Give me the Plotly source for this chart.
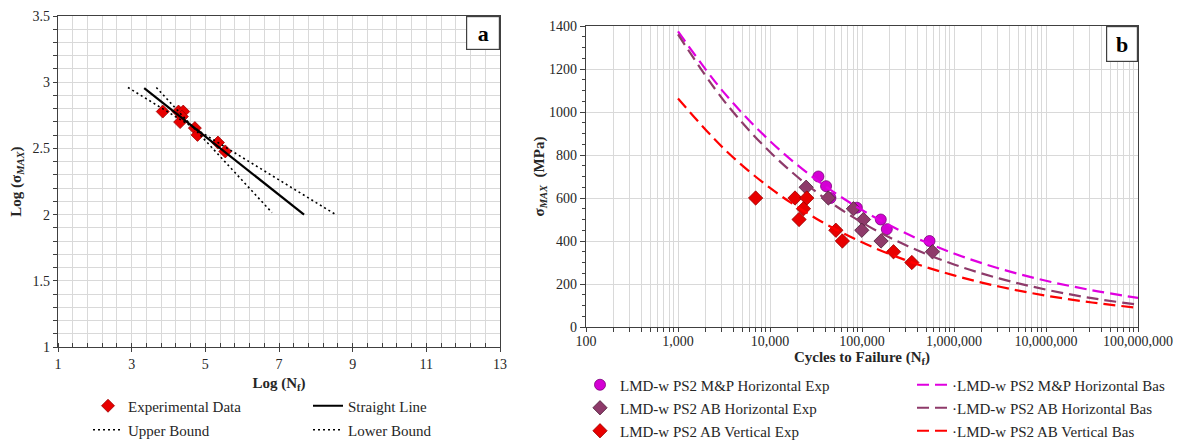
import numpy as np
import plotly.graph_objects as go

# ---------------- data ----------------
# Panel b: experimental points
mp_h_N = [33600, 40700, 45400, 87900, 160000, 186000, 542000]
mp_h_S = [700, 655, 600, 555, 500, 455, 400]

ab_h_N = [24700, 43100, 80700, 103800, 99500, 161000, 583000]
ab_h_S = [650, 600, 550, 500, 450, 400, 350]

ab_v_N = [6980, 18700, 25100, 23100, 20700, 52000, 61200, 220000, 348000]
ab_v_S = [600, 600, 600, 550, 500, 450, 400, 350, 300]

# Panel b: Basquin curves read at half-decade cycle counts
bas_N = [1e3, 3.162e3, 1e4, 3.162e4, 1e5, 3.162e5, 1e6, 3.162e6, 1e7, 3.162e7, 1e8]
mp_h_bas = [1375, 1090, 865, 686, 544, 431, 342, 271, 215, 171, 135]
ab_h_bas = [1361, 1052, 814, 629, 486, 376, 291, 225, 174, 134, 104]
ab_v_bas = [1063, 829, 647, 505, 394, 307, 240, 187, 146, 114, 89]

# Panel a: log-log lines
straight_x = [3.34, 7.68]
straight_y = [2.956, 2.0]
upper_x = [2.90, 8.54]
upper_y = [2.96, 2.0]
lower_x = [3.67, 6.81]
lower_y = [2.96, 2.015]

# tick labels of panel b x axis
b_tickvals = [1e2, 1e3, 1e4, 1e5, 1e6, 1e7, 1e8]
b_ticktext = ["100", "1,000", "10,000", "100,000", "1,000,000", "10,000,000", "100,000,000"]

# ---------------- styling ----------------
OFF = 8  # default page body margin
W, H = 1182 - OFF, 440 - OFF
FONT = "Liberation Serif"
GRID = "#d9d9d9"
AXIS = "#404040"
MAGENTA = "#E000E0"
PLUM = "#8E3A6A"
RED = "#FF0000"


def px_x(p):
    return (p - OFF) / W


def px_y(p):
    return 1 - (p - OFF) / H


fig = go.Figure()

# ---- panel a ----
fig.add_trace(go.Scatter(
    x=np.log10(ab_v_N), y=np.log10(ab_v_S), mode="markers", name="Experimental Data",
    marker=dict(symbol="diamond", size=10, color="#E80000", line=dict(color="#9a0000", width=0.8)),
    xaxis="x", yaxis="y", legend="legend"))
fig.add_trace(go.Scatter(
    x=straight_x, y=straight_y, mode="lines", name="Straight Line",
    line=dict(color="black", width=2.2), xaxis="x", yaxis="y", legend="legend2"))
fig.add_trace(go.Scatter(
    x=upper_x, y=upper_y, mode="lines", name="Upper Bound",
    line=dict(color="black", width=1.6, dash="2px,3px"), xaxis="x", yaxis="y", legend="legend3"))
fig.add_trace(go.Scatter(
    x=lower_x, y=lower_y, mode="lines", name="Lower Bound",
    line=dict(color="black", width=1.6, dash="2px,3px"), xaxis="x", yaxis="y", legend="legend4"))

# ---- panel b ----
DASH = "12px,6px"
fig.add_trace(go.Scatter(
    x=mp_h_N, y=mp_h_S, mode="markers", name="LMD-w PS2 M&P Horizontal Exp",
    marker=dict(symbol="circle", size=11, color="#D400D4", line=dict(color="#7a007a", width=0.8)),
    xaxis="x2", yaxis="y2", legend="legend5"))
fig.add_trace(go.Scatter(
    x=ab_h_N, y=ab_h_S, mode="markers", name="LMD-w PS2 AB Horizontal Exp",
    marker=dict(symbol="diamond", size=11, color=PLUM, line=dict(color="#4d1f39", width=0.8)),
    xaxis="x2", yaxis="y2", legend="legend6"))
fig.add_trace(go.Scatter(
    x=ab_v_N, y=ab_v_S, mode="markers", name="LMD-w PS2 AB Vertical Exp",
    marker=dict(symbol="diamond", size=11, color="#E80000", line=dict(color="#9a0000", width=0.8)),
    xaxis="x2", yaxis="y2", legend="legend7"))
fig.add_trace(go.Scatter(
    x=bas_N, y=mp_h_bas, mode="lines", line_shape="spline", name="·LMD-w PS2 M&P Horizontal Bas",
    line=dict(color=MAGENTA, width=2.2, dash=DASH), xaxis="x2", yaxis="y2", legend="legend8"))
fig.add_trace(go.Scatter(
    x=bas_N, y=ab_h_bas, mode="lines", line_shape="spline", name="·LMD-w PS2 AB Horizontal Bas",
    line=dict(color=PLUM, width=2.2, dash=DASH), xaxis="x2", yaxis="y2", legend="legend9"))
fig.add_trace(go.Scatter(
    x=bas_N, y=ab_v_bas, mode="lines", line_shape="spline", name="·LMD-w PS2 AB Vertical Bas",
    line=dict(color=RED, width=2.2, dash=DASH), xaxis="x2", yaxis="y2", legend="legend10"))

tickfont = dict(family=FONT, size=14, color="#262626")
titlefont = dict(family=FONT, size=15, color="#262626")


def leg(x, y):
    return dict(x=px_x(x), y=px_y(y), xanchor="left", yanchor="middle", orientation="v",
                bgcolor="rgba(0,0,0,0)", borderwidth=0,
                font=dict(family=FONT, size=15, color="#262626"),
                itemwidth=30, tracegroupgap=0)


fig.update_layout(
    width=W, height=H, margin=dict(l=0, r=0, t=0, b=0, autoexpand=False),
    paper_bgcolor="white", plot_bgcolor="white",
    font=dict(family=FONT, color="#262626"),
    xaxis=dict(domain=[px_x(58), px_x(500)], range=[1, 13], dtick=2, tick0=1,
               showgrid=True, gridcolor=GRID, gridwidth=1,
               minor=dict(dtick=0.4, tick0=1, showgrid=True, gridcolor=GRID, ticks="inside",
                          ticklen=4, tickcolor=AXIS),
               ticks="outside", ticklen=4, tickcolor=AXIS,
               showline=True, linecolor=AXIS, linewidth=1.2, mirror=True,
               zeroline=False, tickfont=tickfont,
               title=dict(text="<b>Log (N<sub>f</sub>)</b>", font=titlefont, standoff=6),
               anchor="y"),
    yaxis=dict(domain=[px_y(347), px_y(16)], range=[1, 3.5], dtick=0.5, tick0=1,
               showgrid=True, gridcolor=GRID, gridwidth=1,
               minor=dict(dtick=0.1, tick0=1, showgrid=True, gridcolor=GRID, ticks="outside",
                          ticklen=4, tickcolor=AXIS),
               ticks="outside", ticklen=4, tickcolor=AXIS,
               showline=True, linecolor=AXIS, linewidth=1.2, mirror=True,
               zeroline=False, tickfont=tickfont,
               title=dict(text="<b>Log (σ<sub><i>MAX</i></sub>)</b>", font=titlefont, standoff=8),
               anchor="x"),
    xaxis2=dict(domain=[px_x(586), px_x(1138)], type="log", range=[2, 8],
                tickmode="array", tickvals=b_tickvals, ticktext=b_ticktext, tickangle=0,
                showgrid=True, gridcolor=GRID, gridwidth=1,
                minor=dict(dtick="D1", showgrid=True, gridcolor=GRID, ticks="outside",
                           ticklen=4, tickcolor=AXIS),
                ticks="outside", ticklen=1, tickcolor=AXIS,
                showline=True, linecolor=AXIS, linewidth=1.2, mirror=True,
                zeroline=False, tickfont=tickfont,
                title=dict(text="<b>Cycles to Failure (N<sub>f</sub>)</b>", font=titlefont, standoff=0),
                anchor="y2"),
    yaxis2=dict(domain=[px_y(327), px_y(26)], range=[0, 1400], dtick=200,
                showgrid=True, gridcolor=GRID, gridwidth=1,
                minor=dict(dtick=50, showgrid=False, ticks="outside", ticklen=3, tickcolor=AXIS),
                ticks="outside", ticklen=5, tickcolor=AXIS,
                showline=True, linecolor=AXIS, linewidth=1.2, mirror=True,
                zeroline=False, tickfont=tickfont,
                title=dict(text="<b>σ<sub><i>MAX</i></sub>  (MPa)</b>", font=titlefont, standoff=0),
                anchor="x2"),
    legend=leg(88, 406),
    legend2=leg(308, 406),
    legend3=leg(88, 430),
    legend4=leg(308, 430),
    legend5=leg(580, 385),
    legend6=leg(580, 408),
    legend7=leg(580, 431),
    legend8=leg(912, 385),
    legend9=leg(912, 408),
    legend10=leg(912, 431),
    showlegend=True,
)

fig.add_annotation(xref="paper", yref="paper", x=px_x(500), y=px_y(16),
                   xanchor="right", yanchor="top", text="<b>a</b>", showarrow=False,
                   font=dict(family=FONT, size=22, color="black"),
                   width=32, height=32, bordercolor=AXIS, borderwidth=1.2, borderpad=0,
                   bgcolor="white")
fig.add_annotation(xref="paper", yref="paper", x=px_x(1138), y=px_y(26),
                   xanchor="right", yanchor="top", text="<b>b</b>", showarrow=False,
                   font=dict(family=FONT, size=22, color="black"),
                   width=30, height=34, bordercolor=AXIS, borderwidth=1.2, borderpad=0,
                   bgcolor="white")

fig.write_html("out.html")
